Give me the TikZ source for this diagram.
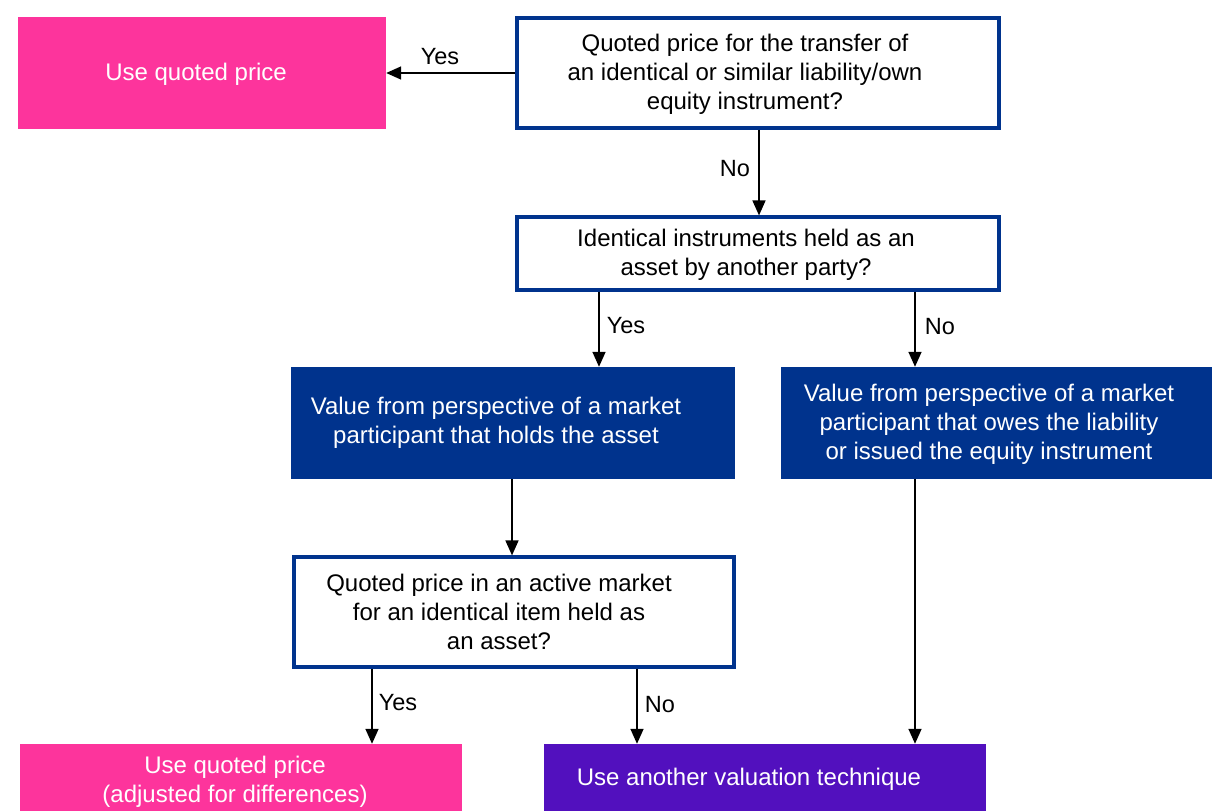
\documentclass[tikz,border=0pt]{standalone}
\usepackage{fontspec}
\setmainfont{Liberation Sans}
\usetikzlibrary{arrows.meta}
\definecolor{kblue}{HTML}{00338D}
\definecolor{kpink}{HTML}{FD349C}
\definecolor{kpurple}{HTML}{5210BE}
\tikzset{
  qbox/.style={draw=kblue, line width=3.2pt, fill=white, rectangle, inner sep=0pt},
  fbox/.style={rectangle, inner sep=0pt, draw=none},
  btxt/.style={align=center, font=\fontsize{24}{29}\selectfont, text=black, inner sep=0pt},
  wtxt/.style={align=center, font=\fontsize{24}{29}\selectfont, text=white, inner sep=0pt},
  lbl/.style={font=\fontsize{23.5}{29}\selectfont, inner sep=0pt},
  arr/.style={line width=1.6pt, -{Triangle[length=15pt,width=13pt]}},
}
\begin{document}
\begin{tikzpicture}[x=1pt,y=-1pt]
\useasboundingbox (0,0) rectangle (1212,811);
% boxes
\node[fbox, fill=kpink, minimum width=368pt, minimum height=112pt] (P1) at (202,73) {};
\node[wtxt] (P1t) at (196,74) {Use quoted price};
\node[qbox, minimum width=482pt, minimum height=110pt] (Q1) at (758,73) {};
\node[btxt] (Q1t) at (745,74) {Quoted price for the transfer of\\an identical or similar liability/own\\equity instrument?};
\node[qbox, minimum width=482pt, minimum height=73pt] (Q2) at (758,253.5) {};
\node[btxt] (Q2t) at (746,255) {Identical instruments held as an\\asset by another party?};
\node[fbox, fill=kblue, minimum width=444pt, minimum height=112pt] (A) at (513,423) {};
\node[wtxt] (At) at (496,422.5) {Value from perspective of a market\\participant that holds the asset};
\node[fbox, fill=kblue, minimum width=431pt, minimum height=112pt] (B) at (996.5,423) {};
\node[wtxt] (Bt) at (989,424.5) {Value from perspective of a market\\participant that owes the liability\\or issued the equity instrument};
\node[qbox, minimum width=440pt, minimum height=110pt] (Q3) at (514,612) {};
\node[btxt] (Q3t) at (499,611.5) {Quoted price in an active market\\for an identical item held as\\an asset?};
\node[fbox, fill=kpink, minimum width=442pt, minimum height=67pt] (P2) at (241,777.5) {};
\node[wtxt] (P2t) at (235,781.5) {Use quoted price\\(adjusted for differences)};
\node[fbox, fill=kpurple, minimum width=442pt, minimum height=67pt] (U) at (765,777.5) {};
\node[wtxt] (Ut) at (749,779.5) {Use another valuation technique};
% connectors
\draw[arr] (Q1.west) -- (P1.east);
\node[lbl] (l1) at (440,57) {Yes};
\draw[arr] ([xshift=1pt]Q1.south) -- ([xshift=1pt]Q2.north);
\node[lbl] (l2) at (735,169) {No};
\draw[arr] ([xshift=-159pt]Q2.south) -- ([xshift=-159pt]Q2.south |- A.north);
\node[lbl] (l3) at (626,326) {Yes};
\draw[arr] ([xshift=157pt]Q2.south) -- ([xshift=157pt]Q2.south |- B.north);
\node[lbl] (l4) at (940,327) {No};
\draw[arr] ([xshift=-1pt]A.south) -- ([xshift=-2pt]Q3.north);
\draw[arr] ([xshift=-142pt]Q3.south) -- ([xshift=-142pt]Q3.south |- P2.north);
\node[lbl] (l5) at (398,703) {Yes};
\draw[arr] ([xshift=123pt]Q3.south) -- ([xshift=123pt]Q3.south |- U.north);
\node[lbl] (l6) at (660,705) {No};
\draw[arr] ([xshift=-81.5pt]B.south) -- ([xshift=-81.5pt]B.south |- U.north);
\end{tikzpicture}
\end{document}
